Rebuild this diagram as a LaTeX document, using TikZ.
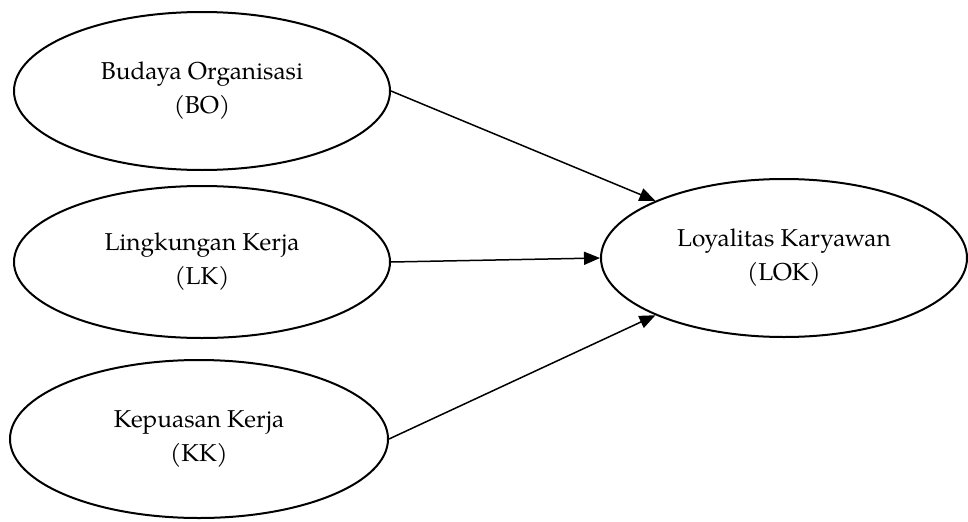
\documentclass[tikz,border=0pt]{standalone}
\usepackage{fontspec}
\setmainfont{TeX Gyre Pagella}
\usetikzlibrary{shapes.geometric,arrows.meta}

\tikzset{
  var/.style={ellipse, draw, line width=1pt, inner sep=0pt, align=center,
    font=\fontsize{12.2}{17}\selectfont},
  path/.style={line width=0.75pt, -{Triangle[length=8pt,width=6.5pt]}}
}

\begin{document}
\begin{tikzpicture}[x=0.5pt, y=0.5pt]
\useasboundingbox (0,0) rectangle (968,521);

\node[var, minimum width=188pt, minimum height=79pt] (bo) at (202,430) {Budaya Organisasi\\(BO)};
\node[var, minimum width=188pt, minimum height=76pt] (lk) at (202,259) {Lingkungan Kerja\\(LK)};
\node[var, minimum width=189pt, minimum height=79pt] (kk) at (199,82) {Kepuasan Kerja\\(KK)};
\node[var, minimum width=183pt, minimum height=79pt] (lok) at (784,263) {Loyalitas Karyawan\\(LOK)};

\draw[path] (bo.east) -- (lok.156);
\draw[path] (lk.east) -- (lok.west);
\draw[path] (kk.east) -- (lok.204);

\end{tikzpicture}
\end{document}
